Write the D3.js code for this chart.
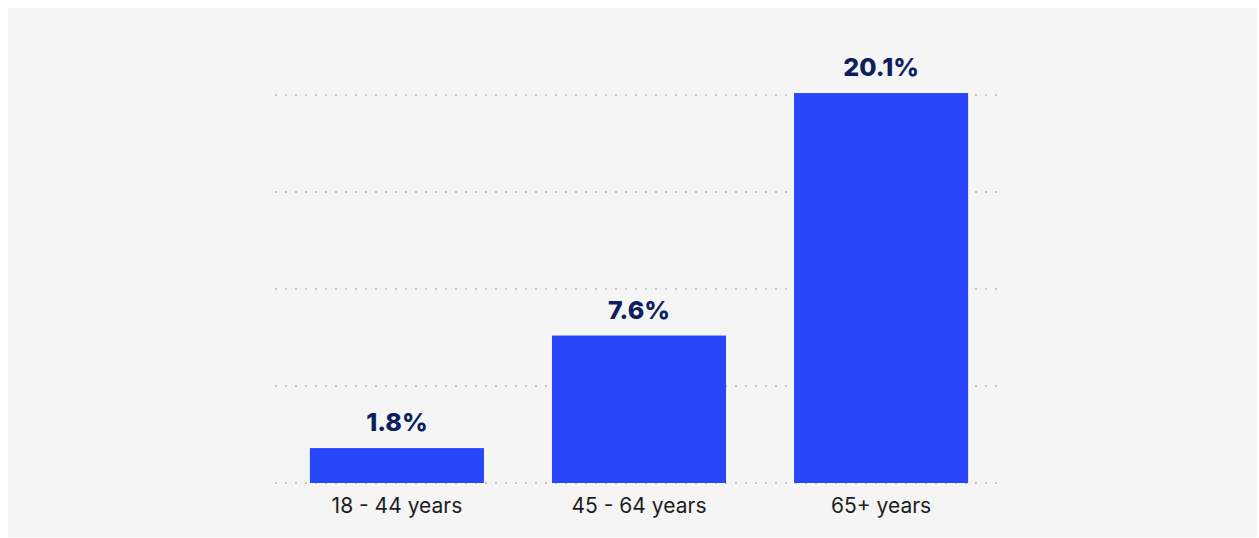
<!DOCTYPE html>
<html>
<head>
<meta charset="utf-8">
<script src="https://cdn.jsdelivr.net/npm/d3@7"></script>
<style>
  html, body { margin: 0; padding: 0; background: #ffffff; }
  svg { display: block; }
</style>
</head>
<body>
<svg id="chart" width="1259" height="538"></svg>
<script>
// Share of adults by age group
const categories = ["18 - 44 years", "45 - 64 years", "65+ years"];
const values = [1.8, 7.6, 20.1];
const valueLabels = ["1.8%", "7.6%", "20.1%"];
const gridTicks = [0, 5, 10, 15, 20];

const svg = d3.select("#chart");
const W = 1259, H = 538;

// light panel behind the chart
svg.append("rect")
  .attr("x", 8).attr("y", 8)
  .attr("width", W - 10).attr("height", H - 9)
  .attr("fill", "#f5f5f5");

const x = d3.scaleBand()
  .domain(categories)
  .range([276, 1002])
  .paddingInner(0.281)
  .paddingOuter(0.14);

const y = d3.scaleLinear()
  .domain([0, 20])
  .range([483, 95]);

// dotted horizontal gridlines
svg.append("g")
  .selectAll("line")
  .data(gridTicks)
  .join("line")
  .attr("x1", 275).attr("x2", 999)
  .attr("y1", d => y(d)).attr("y2", d => y(d))
  .attr("stroke", "#c4c4c4")
  .attr("stroke-width", 2)
  .attr("stroke-dasharray", "2,8");

// bars
svg.append("g")
  .selectAll("rect")
  .data(values)
  .join("rect")
  .attr("x", (d, i) => x(categories[i]))
  .attr("y", d => y(d))
  .attr("width", x.bandwidth())
  .attr("height", d => y(0) - y(d))
  .attr("fill", "#2846fa");

// value labels above bars
svg.append("g")
  .selectAll("text")
  .data(values)
  .join("text")
  .attr("x", (d, i) => x(categories[i]) + x.bandwidth() / 2)
  .attr("y", d => y(d) - 17)
  .attr("text-anchor", "middle")
  .attr("font-family", "Inter, 'Open Sans', sans-serif")
  .attr("font-weight", 800)
  .attr("font-size", 25)
  .attr("fill", "#0c1f5e")
  .text((d, i) => valueLabels[i]);

// category axis
const xAxis = d3.axisBottom(x).tickSize(0).tickPadding(15);
const gx = svg.append("g")
  .attr("transform", `translate(0,${y(0)})`)
  .call(xAxis);
gx.select(".domain").remove();
gx.selectAll("text")
  .attr("font-family", "Inter, 'Open Sans', sans-serif")
  .attr("font-size", 21)
  .attr("fill", "#1e1e1e");
</script>
</body>
</html>
